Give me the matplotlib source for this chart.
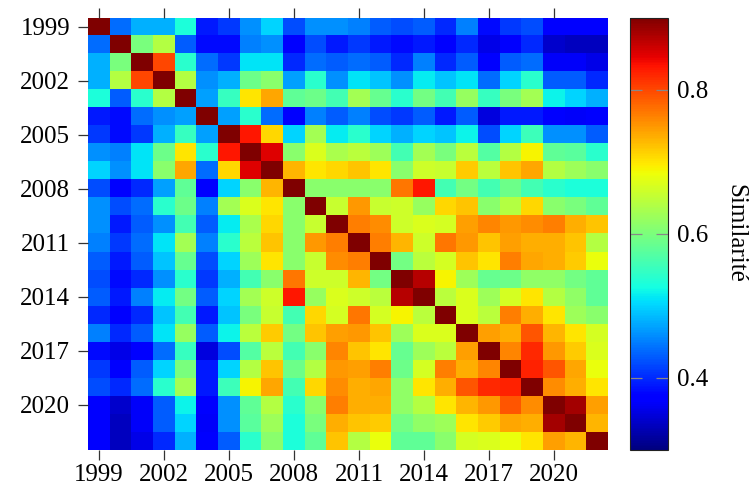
import numpy as np
import matplotlib
matplotlib.use("Agg")
import matplotlib.pyplot as plt

# années 1999 .. 2022
years = list(range(1999, 2023))

# triangle supérieur de la matrice de similarité (hors diagonale), ligne par ligne
upper = [
    [0.44, 0.48, 0.48, 0.53, 0.39, 0.41, 0.46, 0.50, 0.42, 0.46, 0.46, 0.45, 0.43, 0.42, 0.43, 0.40, 0.45, 0.38, 0.41, 0.42, 0.37, 0.37, 0.37],
    [0.60, 0.64, 0.43, 0.38, 0.38, 0.45, 0.46, 0.37, 0.42, 0.39, 0.41, 0.39, 0.38, 0.39, 0.37, 0.40, 0.355, 0.375, 0.40, 0.34, 0.335, 0.335],
    [0.80, 0.54, 0.44, 0.41, 0.51, 0.51, 0.40, 0.44, 0.43, 0.44, 0.43, 0.40, 0.45, 0.40, 0.43, 0.37, 0.43, 0.44, 0.365, 0.365, 0.355],
    [0.64, 0.46, 0.48, 0.59, 0.61, 0.47, 0.54, 0.46, 0.51, 0.49, 0.46, 0.515, 0.49, 0.51, 0.44, 0.50, 0.54, 0.43, 0.43, 0.40],
    [0.47, 0.55, 0.70, 0.74, 0.58, 0.59, 0.56, 0.63, 0.585, 0.54, 0.595, 0.56, 0.62, 0.55, 0.60, 0.63, 0.52, 0.50, 0.48],
    [0.47, 0.54, 0.44, 0.37, 0.45, 0.43, 0.45, 0.42, 0.41, 0.43, 0.39, 0.43, 0.35, 0.39, 0.39, 0.37, 0.365, 0.37],
    [0.83, 0.71, 0.50, 0.63, 0.515, 0.54, 0.50, 0.48, 0.50, 0.49, 0.52, 0.42, 0.50, 0.555, 0.46, 0.46, 0.43],
    [0.85, 0.61, 0.67, 0.635, 0.645, 0.625, 0.56, 0.63, 0.60, 0.645, 0.57, 0.64, 0.69, 0.58, 0.575, 0.54],
    [0.73, 0.70, 0.71, 0.72, 0.70, 0.61, 0.66, 0.655, 0.715, 0.645, 0.72, 0.74, 0.64, 0.625, 0.61],
    [0.61, 0.61, 0.61, 0.61, 0.77, 0.83, 0.56, 0.595, 0.56, 0.59, 0.56, 0.54, 0.53, 0.53],
    [0.655, 0.75, 0.655, 0.66, 0.62, 0.71, 0.72, 0.61, 0.64, 0.71, 0.61, 0.60, 0.58],
    [0.765, 0.755, 0.66, 0.67, 0.665, 0.745, 0.76, 0.75, 0.755, 0.765, 0.735, 0.72],
    [0.765, 0.73, 0.66, 0.77, 0.75, 0.72, 0.745, 0.735, 0.735, 0.72, 0.64],
    [0.595, 0.645, 0.665, 0.72, 0.70, 0.765, 0.74, 0.735, 0.715, 0.68],
    [0.87, 0.69, 0.625, 0.585, 0.59, 0.615, 0.615, 0.595, 0.58],
    [0.645, 0.67, 0.625, 0.665, 0.70, 0.64, 0.615, 0.58],
    [0.67, 0.645, 0.765, 0.735, 0.70, 0.625, 0.61],
    [0.745, 0.735, 0.79, 0.73, 0.70, 0.665],
    [0.76, 0.82, 0.75, 0.715, 0.67],
    [0.825, 0.79, 0.74, 0.68],
    [0.755, 0.735, 0.70],
    [0.88, 0.745],
    [0.73],
]
diag_value = 1.0

n = len(years)
sim = np.full((n, n), diag_value)
for i, row in enumerate(upper):
    for k, v in enumerate(row):
        j = i + 1 + k
        sim[i, j] = v
        sim[j, i] = v

plt.rcParams['font.family'] = ['Liberation Serif', 'DejaVu Serif']
plt.rcParams['font.size'] = 18

fig = plt.figure(figsize=(7.51, 4.93), dpi=100)
ax = fig.add_axes([0.1176, 0.0878, 0.6924, 0.8763])
im = ax.imshow(sim, cmap='jet', vmin=0.3, vmax=0.9, aspect='auto',
               interpolation='nearest')

tick_idx = list(range(0, n, 3))
ax.set_xticks(tick_idx)
ax.set_xticklabels([str(years[i]) for i in tick_idx])
ax.set_yticks(tick_idx)
ax.set_yticklabels([str(years[i]) for i in tick_idx])
ax.tick_params(axis='both', direction='out', length=7, width=0.9,
               color='#333333', top=True, labeltop=False, right=False)
ax.tick_params(axis='y', pad=6)
ax.tick_params(axis='x', pad=3)
for s in ax.spines.values():
    s.set_visible(False)

cax = fig.add_axes([0.8389, 0.0878, 0.051, 0.8763])
cb = fig.colorbar(im, cax=cax, ticks=[0.4, 0.6, 0.8])
cb.ax.tick_params(direction='in', length=8.5, width=0.9, color='#888888',
                  left=True, right=True, labelleft=False, labelright=True,
                  pad=6)
cb.outline.set_edgecolor('#222222')
cb.set_label('Similarité', rotation=270, labelpad=28)

fig.savefig('out.png', dpi=100)
